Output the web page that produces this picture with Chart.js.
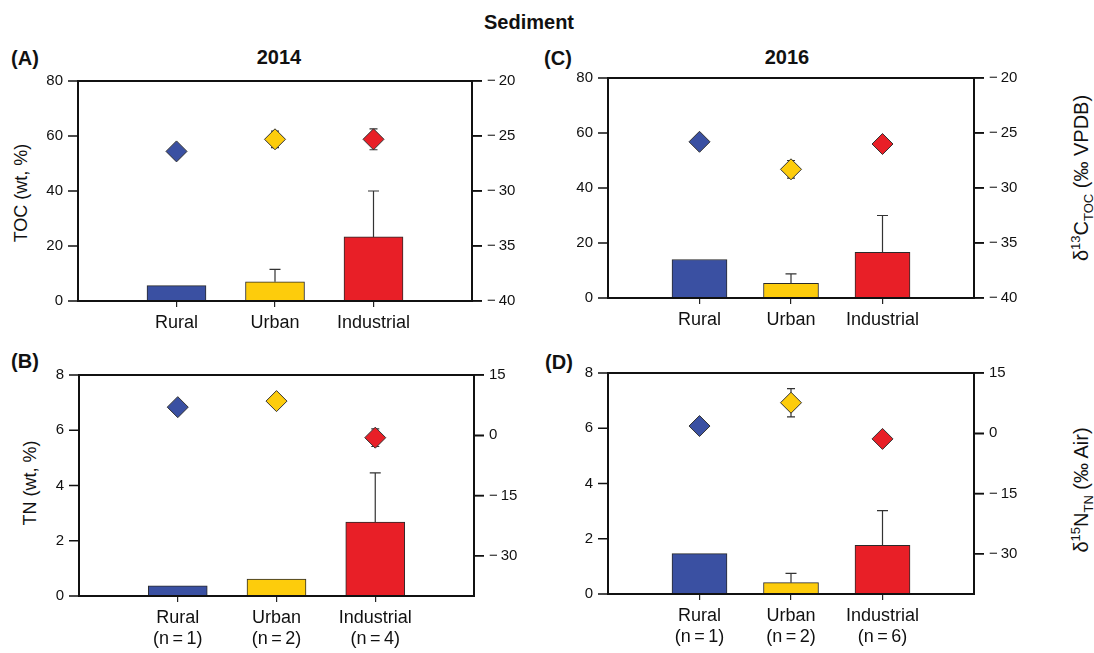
<!DOCTYPE html>
<html>
<head>
<meta charset="utf-8">
<script src="https://cdn.jsdelivr.net/npm/chart.js@4/dist/chart.umd.min.js"></script>
<style>
  body { margin: 0; background: #fff; width: 1094px; height: 653px; position: relative; overflow: hidden;
         font-family: "Liberation Sans", Arial, sans-serif; color: #111; }
  canvas { position: absolute; }
  .lbl { position: absolute; white-space: nowrap; transform: translate(-50%, -50%); }
  .rot { position: absolute; white-space: nowrap; transform: translate(-50%, -50%) rotate(-90deg); font-size: 18px; }
  .rot.iso { font-size: 20px; }
  .hd { font-weight: bold; font-size: 20px; }
  .rot sup, .rot sub { font-size: 13px; line-height: 0; }
</style>
</head>
<body>
<div class="lbl hd" style="left:529px;top:22px;">Sediment</div>
<div class="lbl hd" style="left:25px;top:58px;">(A)</div>
<div class="lbl hd" style="left:279px;top:57px;">2014</div>
<div class="lbl hd" style="left:558px;top:58px;">(C)</div>
<div class="lbl hd" style="left:787px;top:57px;">2016</div>
<div class="lbl hd" style="left:25px;top:361px;">(B)</div>
<div class="lbl hd" style="left:559px;top:362px;">(D)</div>
<div class="rot" style="left:21px;top:193px;">TOC (wt, %)</div>
<div class="rot" style="left:30px;top:483px;">TN (wt, %)</div>
<div class="rot iso" style="left:1081px;top:178px;">δ<sup>13</sup>C<sub>TOC</sub> (‰ VPDB)</div>
<div class="rot iso" style="left:1081px;top:490px;">δ<sup>15</sup>N<sub>TN</sub> (‰ Air)</div>

<canvas id="panelA"></canvas>
<canvas id="panelB"></canvas>
<canvas id="panelC"></canvas>
<canvas id="panelD"></canvas>

<script>
Chart.defaults.font.family = '"Liberation Sans", Arial, sans-serif';
Chart.defaults.color = '#111';
Chart.defaults.animation = false;

// Sites and their colours
const categories = ['Rural', 'Urban', 'Industrial'];
const siteColors = ['#3a50a2', '#fdcc0c', '#e81f27'];
const sampleSizes2014 = [1, 2, 4];
const sampleSizes2016 = [1, 2, 6];

// 2014: TOC (wt %) bars and δ13C-TOC (‰ VPDB) diamonds
const toc2014 = [5.6, 7.0, 23.3];
const toc2014Sd = [0, 4.5, 16.7];
const d13c2014 = [-26.4, -25.3, -25.3];
const d13c2014Sd = [0, 0.75, 0.95];

// 2014: TN (wt %) bars and δ15N-TN (‰ Air) diamonds
const tn2014 = [0.37, 0.61, 2.68];
const tn2014Sd = [0, 0, 1.78];
const d15n2014 = [7.0, 8.5, -0.6];
const d15n2014Sd = [0, 0, 2.2];

// 2016: TOC and δ13C-TOC
const toc2016 = [14.0, 5.3, 16.6];
const toc2016Sd = [0, 3.5, 13.4];
const d13c2016 = [-25.8, -28.3, -26.0];
const d13c2016Sd = [0, 0.8, 0];

// 2016: TN and δ15N-TN
const tn2016 = [1.46, 0.41, 1.76];
const tn2016Sd = [0, 0.34, 1.26];
const d15n2016 = [1.8, 7.6, -1.4];
const d15n2016Sd = [0, 3.5, 0];

// Axis tick values
const tocTicks = [0, 20, 40, 60, 80];
const d13cTicks = [-40, -35, -30, -25, -20];
const tnTicks = [0, 2, 4, 6, 8];
const d15nTicks = [-30, -15, 0, 15];

const fmtSigned = v => (v < 0 ? '\u2212\u2009' + Math.abs(v) : String(v));

// Error whiskers: upward for bars, both ways for diamonds (drawn beneath the diamond)
const errorBars = {
  id: 'errorBars',
  beforeDatasetDraw(chart, args) { drawErrors(chart, args, 'both'); },
  afterDatasetDraw(chart, args) { drawErrors(chart, args, 'up'); }
};
function drawErrors(chart, args, mode) {
  const ds = chart.data.datasets[args.index];
  if (!ds.errors || ds.errorMode !== mode) return;
  const meta = args.meta;
  const y = chart.scales[meta.yAxisID];
  const ctx = chart.ctx;
  ctx.save();
  ctx.strokeStyle = '#333';
  ctx.lineWidth = 1.2;
  meta.data.forEach((el, i) => {
    const e = ds.errors[i];
    if (!e) return;
    const v = ds.data[i].y;
    const x = el.x;
    const hi = y.getPixelForValue(v + e);
    const lo = mode === 'both' ? y.getPixelForValue(v - e) : y.getPixelForValue(v);
    const cap = mode === 'both' ? 4 : 5.5;
    ctx.beginPath();
    ctx.moveTo(x, lo); ctx.lineTo(x, hi);
    ctx.moveTo(x - cap, hi); ctx.lineTo(x + cap, hi);
    if (mode === 'both') { ctx.moveTo(x - cap, lo); ctx.lineTo(x + cap, lo); }
    ctx.stroke();
  });
  ctx.restore();
}

// Box frame, outward tick marks on both value axes, and left-axis labels
const frame = {
  id: 'frame',
  afterDatasetsDraw(chart) {
    const { ctx, chartArea: a, scales } = chart;
    ctx.save();
    ctx.strokeStyle = '#111';
    ctx.lineWidth = 2;
    ctx.strokeRect(a.left, a.top, a.right - a.left, a.bottom - a.top);

    ctx.lineWidth = 1.5;
    ctx.beginPath();
    scales.y.ticks.forEach(t => {
      const py = scales.y.getPixelForValue(t.value);
      ctx.moveTo(a.left - 10, py); ctx.lineTo(a.left, py);
    });
    scales.y2.ticks.forEach(t => {
      const py = scales.y2.getPixelForValue(t.value);
      ctx.moveTo(a.right, py); ctx.lineTo(a.right + 10, py);
    });
    ctx.stroke();

    ctx.fillStyle = '#111';
    ctx.font = '15px "Liberation Sans", Arial, sans-serif';
    ctx.textAlign = 'right';
    ctx.textBaseline = 'middle';
    scales.y.ticks.forEach(t => {
      ctx.fillText(String(t.value), a.left - 15, scales.y.getPixelForValue(t.value));
    });
    ctx.restore();
  }
};

function setTicks(values) {
  return scale => { scale.ticks = values.map(v => ({ value: v })); };
}

function makePanel(cfg) {
  const cv = document.getElementById(cfg.id);
  cv.width = cfg.w; cv.height = cfg.h;
  cv.style.left = cfg.x + 'px'; cv.style.top = cfg.y + 'px';
  const pts = vals => vals.map((v, i) => ({ x: i + 1, y: v }));
  const xLabel = i => cfg.nSizes
    ? [categories[i], '(n\u2009=\u2009' + cfg.nSizes[i] + ')']
    : categories[i];

  new Chart(cv, {
    type: 'bar',
    data: {
      datasets: [
        {
          type: 'line',
          data: pts(cfg.iso),
          errors: cfg.isoSd,
          errorMode: 'both',
          yAxisID: 'y2',
          showLine: false,
          pointStyle: 'rectRot',
          pointRadius: 10.5,
          pointBackgroundColor: siteColors,
          pointBorderColor: '#333',
          pointBorderWidth: 1
        },
        {
          type: 'bar',
          data: pts(cfg.bars),
          errors: cfg.barSd,
          errorMode: 'up',
          yAxisID: 'y',
          backgroundColor: siteColors,
          borderColor: '#2a2a2a',
          borderWidth: 1,
          barThickness: cfg.barW
        }
      ]
    },
    options: {
      responsive: false,
      devicePixelRatio: 1,
      layout: { padding: { top: cfg.padTop, left: 0, right: 0, bottom: 0 } },
      plugins: { legend: { display: false }, tooltip: { enabled: false } },
      scales: {
        x: {
          type: 'linear',
          offset: false,
          min: 0, max: 4,
          afterBuildTicks: setTicks([0, 1, 2, 3, 4]),
          afterFit: s => { s.height = cfg.xH; },
          border: { display: true, color: '#111', width: 2 },
          grid: {
            offset: false, drawOnChartArea: false, drawTicks: true, tickLength: 6, lineWidth: 1.2,
            color: c => (c.tick && c.tick.value >= 1 && c.tick.value <= 3) ? '#222' : 'rgba(0,0,0,0)'
          },
          ticks: {
            autoSkip: false, maxRotation: 0, padding: 5,
            font: { size: 18, lineHeight: 1.2 },
            callback: v => (v >= 1 && v <= 3) ? xLabel(v - 1) : ''
          }
        },
        y: {
          type: 'linear',
          position: 'left',
          min: cfg.leftTicks[0], max: cfg.leftTicks[cfg.leftTicks.length - 1],
          afterBuildTicks: setTicks(cfg.leftTicks),
          afterFit: s => { s.width = cfg.yW; },
          border: { display: true, color: '#111', width: 2 },
          grid: { display: false },
          ticks: { display: false }
        },
        y2: {
          type: 'linear',
          position: 'right',
          min: cfg.rightMin, max: cfg.rightMax,
          afterBuildTicks: setTicks(cfg.rightTicks),
          afterFit: s => { s.width = cfg.y2W; },
          border: { display: true, color: '#111', width: 2 },
          grid: { drawOnChartArea: false, drawTicks: true, tickLength: 10, color: '#111', lineWidth: 1.5 },
          ticks: { padding: 5, font: { size: 15 }, callback: v => fmtSigned(v) }
        }
      }
    },
    plugins: [errorBars, frame]
  });
}

// (A) 2014 TOC / δ13C
makePanel({ id: 'panelA', x: 0, y: 30, w: 545, h: 315, padTop: 51, yW: 78, y2W: 73, xH: 44, barW: 59,
  bars: toc2014, barSd: toc2014Sd, iso: d13c2014, isoSd: d13c2014Sd,
  leftTicks: tocTicks, rightTicks: d13cTicks, rightMin: -40, rightMax: -20 });

// (B) 2014 TN / δ15N
makePanel({ id: 'panelB', x: 0, y: 345, w: 545, h: 308, padTop: 30, yW: 79, y2W: 71, xH: 57, barW: 59,
  bars: tn2014, barSd: tn2014Sd, iso: d15n2014, isoSd: d15n2014Sd, nSizes: sampleSizes2014,
  leftTicks: tnTicks, rightTicks: d15nTicks, rightMin: -40, rightMax: 15 });

// (C) 2016 TOC / δ13C
makePanel({ id: 'panelC', x: 545, y: 30, w: 549, h: 315, padTop: 48, yW: 63, y2W: 120, xH: 47, barW: 55,
  bars: toc2016, barSd: toc2016Sd, iso: d13c2016, isoSd: d13c2016Sd,
  leftTicks: tocTicks, rightTicks: d13cTicks, rightMin: -40, rightMax: -20 });

// (D) 2016 TN / δ15N
makePanel({ id: 'panelD', x: 545, y: 345, w: 549, h: 308, padTop: 28, yW: 63, y2W: 120, xH: 59, barW: 55,
  bars: tn2016, barSd: tn2016Sd, iso: d15n2016, isoSd: d15n2016Sd, nSizes: sampleSizes2016,
  leftTicks: tnTicks, rightTicks: d15nTicks, rightMin: -40, rightMax: 15 });
</script>
</body>
</html>
